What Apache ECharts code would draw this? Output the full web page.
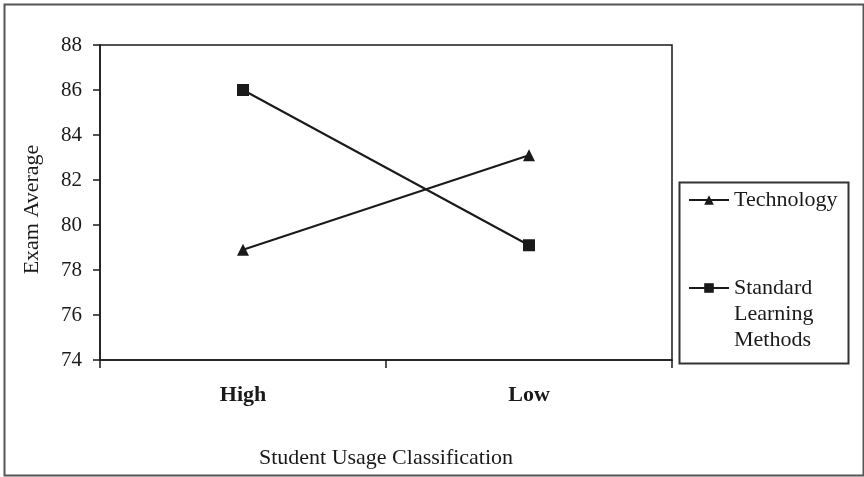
<!DOCTYPE html>
<html><head><meta charset="utf-8">
<script src="https://cdn.jsdelivr.net/npm/echarts@6/dist/echarts.min.js"></script>
<style>html,body{margin:0;padding:0;background:#fff}#c{width:864px;height:477px}</style>
</head><body><div id="c"></div>
<script>
const categories = ['High', 'Low'];
const technology = [78.9, 83.1];
const standardMethods = [86.0, 79.1];
const yTicks = [74, 76, 78, 80, 82, 84, 86, 88];
const seriesNames = ['Technology', 'Standard Learning Methods'];

const FONT = '"Liberation Serif", "DejaVu Serif", serif';
const INK = '#1a1a1a';
const chart = echarts.init(document.getElementById('c'));
chart.setOption({
  backgroundColor: '#fff',
  animation: false,
  textStyle: { fontFamily: FONT, color: INK },
  grid: { left: 100, top: 45, width: 572, height: 315, show: true, borderColor: INK, borderWidth: 1.5, backgroundColor: 'transparent' },
  xAxis: {
    type: 'category', data: categories, boundaryGap: true,
    axisLine: { lineStyle: { color: INK, width: 1.5 } },
    axisTick: { show: true, length: 8, lineStyle: { color: INK, width: 1.5 } },
    axisLabel: { fontFamily: FONT, fontWeight: 'bold', fontSize: 22, color: INK, margin: 24 },
    name: 'Student Usage Classification', nameLocation: 'middle', nameGap: 87,
    nameTextStyle: { fontFamily: FONT, fontSize: 22, color: INK }
  },
  yAxis: {
    type: 'value', min: yTicks[0], max: yTicks[yTicks.length - 1], interval: 2,
    axisLine: { show: true, lineStyle: { color: INK, width: 1.5 } },
    axisTick: { show: true, length: 7, lineStyle: { color: INK, width: 1.5 } },
    splitLine: { show: false },
    axisLabel: { fontFamily: FONT, fontSize: 21, color: INK, margin: 18 },
    name: 'Exam Average', nameLocation: 'middle', nameGap: 57, nameRotate: 90,
    nameTextStyle: { fontFamily: FONT, fontSize: 22, color: INK, padding: [0, 14, 0, 0] }
  },
  legend: [
    { data: [seriesNames[0]], orient: 'vertical', left: 688, top: 189, padding: 0, itemWidth: 40, itemHeight: 12,
      textStyle: { fontFamily: FONT, fontSize: 22, color: INK } },
    { data: [seriesNames[1]], orient: 'vertical', left: 688, top: 223, padding: 0, itemWidth: 40, itemHeight: 12,
      formatter: n => '\n\n' + n.split(' ').join('\n'),
      textStyle: { fontFamily: FONT, fontSize: 22, color: INK, lineHeight: 26 } }
  ],
  graphic: [
    { type: 'rect', left: 2, top: 2, shape: { width: 859, height: 471 }, style: { fill: 'none', stroke: '#555', lineWidth: 2 }, silent: true },
    { type: 'rect', left: 677, top: 180, shape: { width: 169, height: 181 }, style: { fill: 'none', stroke: '#333', lineWidth: 2 }, silent: true }
  ],
  series: [
    { name: seriesNames[0], type: 'line', data: technology, symbol: 'triangle', symbolSize: 12,
      itemStyle: { color: INK }, lineStyle: { color: INK, width: 2 } },
    { name: seriesNames[1], type: 'line', data: standardMethods, symbol: 'rect', symbolSize: 12,
      itemStyle: { color: INK }, lineStyle: { color: INK, width: 2 } }
  ]
});
</script></body></html>
